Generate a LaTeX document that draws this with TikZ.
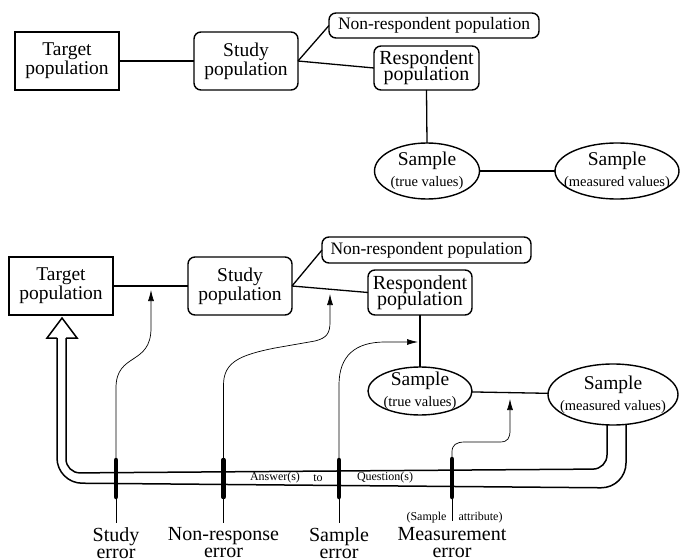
\documentclass[tikz,border=0pt]{standalone}
\usepackage{fontspec}
\setmainfont{Liberation Serif}
\usetikzlibrary{arrows.meta,shapes.geometric}
\newcommand\mysub[1]{{\fontsize{14.5}{15}\selectfont #1}}
\lineskiplimit=-20pt
\begin{document}
\begin{tikzpicture}[x=1pt,y=-1pt,
  lab/.style={inner sep=0pt, outer sep=0pt, align=center},
  sqbox/.style={lab, draw, line width=1.8pt, minimum width=104pt, minimum height=58pt, font=\fontsize{19.5}{19}\selectfont},
  rbox/.style={lab, draw, line width=1.4pt, rounded corners=7pt, font=\fontsize{19.5}{19}\selectfont},
  ell/.style={lab, draw, ellipse, inner sep=-40pt, line width=1.4pt, font=\fontsize{19.5}{19}\selectfont},
  link/.style={line width=1.3pt},
  thinarrow/.style={line width=0.7pt, -{Latex[length=11pt,width=6pt]}},
  thinline/.style={line width=0.7pt},
  errbar/.style={line width=4.5pt, line cap=round},
  pipe/.style={line width=1.5pt},
  errlab/.style={lab, anchor=north, font=\fontsize{20}{17.3}\selectfont},
  small/.style={lab, font=\fontsize{12}{12}\selectfont}
]
\useasboundingbox (0,0) rectangle (681,559);

% ---------- upper diagram ----------
\node[sqbox] (T1) at (67,61) {Target\\population};
\node[rbox, minimum width=104pt, minimum height=58pt] (S1) at (246,61) {Study\\population};
\node[rbox, minimum width=210pt, minimum height=25pt, font=\fontsize{17.5}{18}\selectfont] (N1) at (434,25.5) {Non-respondent population};
\node[rbox, minimum width=105pt, minimum height=44pt, font=\fontsize{20}{16}\selectfont] (R1) at (426.5,68) {Respondent\\population};
\node[ell, minimum width=105pt, minimum height=56pt] (E1) at (427,171) {Sample\\[2pt]\mysub{(true values)}};
\node[ell, minimum width=124pt, minimum height=56pt] (E2) at (617,171) {Sample\\[2pt]\mysub{(measured values)}};

\draw[link] (T1) -- (S1);
\draw[link] (S1.east) -- (N1.west);
\draw[link] (S1.east) -- (R1.west);
\draw[link] (R1.south) -- (E1.north);
\draw[link] (E1) -- (E2);

% ---------- lower diagram ----------
\node[sqbox] (T2) at (61,286) {Target\\population};
\node[rbox, minimum width=104pt, minimum height=58pt] (S2) at (240,286) {Study\\population};
\node[rbox, minimum width=209pt, minimum height=26pt, font=\fontsize{17.5}{18}\selectfont] (N2) at (426.5,250) {Non-respondent population};
\node[rbox, minimum width=104pt, minimum height=45pt, font=\fontsize{20}{16}\selectfont] (R2) at (420,292.5) {Respondent\\population};
\node[ell, minimum width=104pt, minimum height=48pt] (E3) at (420,391) {Sample\\[2pt]\mysub{(true values)}};
\node[ell, minimum width=130pt, minimum height=61pt] (E4) at (613,394.5) {Sample\\[2pt]\mysub{(measured values)}};

\draw[link] (T2) -- (S2);
\draw[link] (S2.east) -- (N2.west);
\draw[link] (S2.east) -- (R2.west);
\draw[link] (R2.south) -- (E3.north);
\draw[link] (E3) -- (E4);

% pipe (double line) with hollow arrow head
\coordinate (pOa) at (57,338);
\coordinate (pIa) at (66,338);
\draw[pipe, rounded corners=14pt] ([xshift=-6pt]E4.south) -- (607,469) -- (66,473) -- (pIa);
\draw[pipe, rounded corners=25pt] ([xshift=13pt]E4.south) -- (626,488) -- (57,483) -- (pOa);
\coordinate (hL) at (47,338);
\coordinate (hR) at (77,338);
\coordinate (hT) at (62,318);
\draw[pipe, line join=miter] (pOa) -- (hL) -- (hT) -- (hR) -- (pIa);

% error bars
\coordinate (b1t) at (116,460);   \coordinate (b1b) at (116,497);   \coordinate (b1e) at (116,523);
\coordinate (b2t) at (223.5,460); \coordinate (b2b) at (223.5,497); \coordinate (b2e) at (223.5,523);
\coordinate (b3t) at (339,460);   \coordinate (b3b) at (339,497);   \coordinate (b3e) at (339,523);
\coordinate (b4t) at (452,459);   \coordinate (b4b) at (452,497);   \coordinate (b4e) at (452,521);

% arrows from the error bars
\coordinate (a1) at (151,290);
\coordinate (a2) at (330,294);
\coordinate (a3) at (418,342);
\coordinate (a4) at (510,399);
\draw[thinarrow] (b1t) -- (116,388) .. controls (116,352) and (151,366) .. (151,328) -- (a1);
\draw[thinarrow] (b2t) -- (223.5,385) .. controls (223.5,362) and (240,355) .. (275,348) -- (315,341) .. controls (327,338) and (330,333) .. (330,322) -- (a2);
\draw[thinarrow] (b3t) -- (339,385) .. controls (339,356) and (355,342) .. (385,342) -- (a3);
\draw[thinarrow] (b4t) -- (452,452) .. controls (452,445) and (456,442) .. (465,442) -- (500,442) .. controls (508,442) and (510,438) .. (510,430) -- (a4);

\draw[thinline] (b1b) -- (b1e);
\draw[thinline] (b2b) -- (b2e);
\draw[thinline] (b3b) -- (b3e);
\draw[thinline] (b4b) -- (b4e);

\draw[errbar] (b1t) -- (b1b);
\draw[errbar] (b2t) -- (b2b);
\draw[errbar] (b3t) -- (b3b);
\draw[errbar] (b4t) -- (b4b);

% texts
\node[small] (ans) at (275,478) {Answer(s)};
\node[small] (to) at (318,478) {to};
\node[small] (qs) at (385,478) {Question(s)};
\node[small] (sa) at (426.5,518) {(Sample};
\node[small] (at) at (480.5,518) {attribute)};

\node[errlab] (L1) at (116,527.5) {Study\\error};
\node[errlab] (L2) at (223.5,527.5) {Non-response\\error};
\node[errlab] (L3) at (339,527.5) {Sample\\error};
\node[errlab] (L4) at (452,527.5) {Measurement\\error};
\end{tikzpicture}
\end{document}
